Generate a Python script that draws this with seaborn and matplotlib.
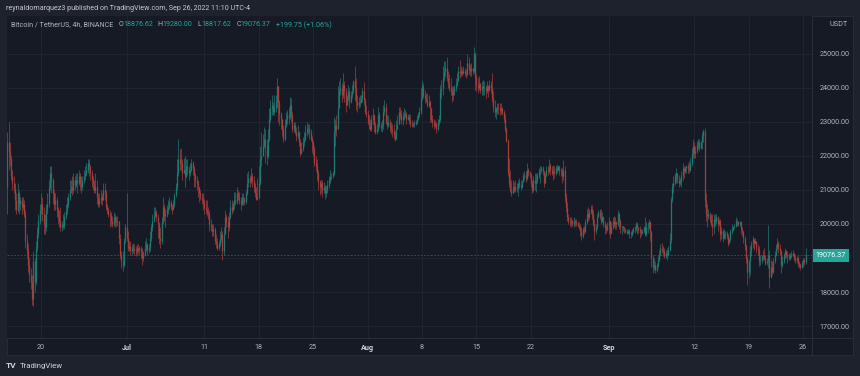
import numpy as np
import pandas as pd
import matplotlib
matplotlib.use("Agg")
import matplotlib.pyplot as plt
import matplotlib.dates as mdates
from matplotlib.patches import Rectangle
from matplotlib.lines import Line2D
import seaborn as sns

# ── Data: BTC/USDT 4h candles ────────────────────────────────────
first_bar = "2022-06-15 16:00"
first_open = 21100.0

close = [
    22400, 22150,
    21900, 21400, 21200, 21050, 20700, 20400,
    20900, 20600, 20700, 20500, 20600, 20300,
    19500, 19200, 18800, 18500, 18300, 17800,
    18900, 18300, 19300, 19700, 20100, 20400,
    20600, 20300, 20000, 19900, 20400, 20600,
    21100, 21500, 21300, 20900, 20600, 20700,
    20400, 20200, 20100, 19900, 20000, 19950,
    20200, 20400, 20600, 20800, 21000, 21100,
    21000, 21300, 21150, 21300, 21200, 21400,
    21200, 21100, 21300, 21400, 21500, 21600,
    21800, 21700, 21500, 21300, 21200, 21000,
    21100, 20800, 20600, 20700, 20800, 20700,
    21000, 20900, 20500, 20400, 20300, 20250,
    20100, 20000, 20200, 20100, 20050, 20100,
    19600, 19100, 18900, 18800, 19500, 19900,
    19600, 19300, 19350, 19200, 19300, 19300,
    19250, 19200, 19300, 19250, 19300, 19200,
    19000, 19100, 19300, 19400, 19250, 19300,
    19600, 19900, 20100, 20250, 20350, 20200,
    20000, 19600, 19500, 20100, 20500, 20250,
    20300, 20450, 20500, 20650, 20500, 20450,
    20600, 20850, 21100, 21500, 21900, 21800,
    21800, 21500, 21600, 21400, 21700, 21600,
    21500, 21600, 21800, 21650, 21450, 21300,
    21200, 21100, 20900, 20800, 20750, 20650,
    20500, 20400, 20350, 20300, 20000, 19900,
    19800, 19850, 19500, 19400, 19300, 19400,
    19550, 19700, 19200, 19700, 20200, 20050,
    19900, 20200, 20500, 20400, 20600, 20700,
    20650, 20900, 20800, 20700, 20600, 20800,
    20750, 20650, 20900, 21200, 21350, 21250,
    21400, 21300, 21100, 20900, 20750, 20800,
    21200, 21900, 22000, 22300, 22500, 22300,
    22000, 22500, 23100, 23400, 23500, 23300,
    23450, 23600, 24050, 23600, 23250, 23100,
    22800, 22500, 22900, 23100, 23200, 23150,
    23500, 23200, 22800, 22900, 22700, 22600,
    22700, 22400, 22100, 22200, 22400, 22500,
    22700, 22800, 22800, 22700, 22500, 22400,
    22200, 21800, 21700, 21500, 21250, 21100,
    21200, 21000, 21100, 20900, 21000, 21150,
    21300, 21400, 21400, 21500, 22700, 22900,
    22800, 23400, 23900, 24000, 23800, 24100,
    23900, 23500, 23700, 23900, 23600, 23800,
    23900, 24200, 24000, 23600, 23500, 23600,
    23600, 23700, 23900, 23650, 23300, 23250,
    23000, 22900, 22800, 23100, 23200, 22900,
    22700, 22800, 23200, 22900, 22850, 22900,
    23300, 23450, 23000, 22900, 23000, 22850,
    22800, 22750, 22600, 22500, 22800, 22950,
    23300, 23250, 23050, 23150, 23200, 23250,
    23100, 23150, 23050, 22950, 22900, 22950,
    22950, 23000, 23100, 23200, 23300, 23700,
    24050, 23800, 23700, 23650, 23500, 23600,
    23400, 23100, 23000, 22900, 22950, 22800,
    23000, 23100, 23900, 24000, 24300, 24500,
    24600, 24300, 24150, 24000, 23900, 23800,
    23900, 24000, 24100, 24200, 24500, 24450,
    24500, 24450, 24500, 24450, 24400, 24750,
    24550, 24500, 24600, 24500, 25000, 24350,
    24100, 24000, 24150, 23950, 24050, 24000,
    24000, 23900, 24050, 23950, 24100, 24000,
    23700, 23450, 23300, 23400, 23450, 23400,
    23350, 23400, 23300, 23100, 22800, 22450,
    21500, 21200, 21000, 20900, 21100, 21000,
    21100, 21050, 21200, 21150, 21100, 21250,
    21400, 21450, 21350, 21600, 21500, 21450,
    21200, 21000, 21300, 21200, 21300, 21450,
    21550, 21600, 21650, 21550, 21200, 21400,
    21600, 21550, 21750, 21600, 21500, 21550,
    21500, 21650, 21600, 21700, 21600, 21550,
    21400, 21600, 20800, 20500, 20200, 20100,
    20050, 20100, 20000, 20100, 20050, 20000,
    19950, 19900, 19800, 19650, 19850, 19800,
    20050, 20300, 20200, 20350, 20450, 20300,
    20000, 19800, 19900, 20200, 20350, 20250,
    20100, 20200, 20000, 19900, 19850, 19950,
    20100, 19750, 19900, 20100, 20000, 20050,
    20000, 20300, 20100, 19900, 19950, 19900,
    19850, 19800, 19750, 19800, 19750, 19700,
    19800, 19850, 19900, 20000, 19900, 19850,
    19800, 19750, 19800, 19900, 19700, 19900,
    19900, 20050, 19800, 19000, 18750, 18800,
    18650, 18800, 18950, 19100, 19300, 19250,
    19200, 19050, 19150, 19100, 19250, 19500,
    20700, 21100, 21200, 21450, 21500, 21300,
    21200, 21250, 21450, 21650, 21550, 21650,
    21700, 21650, 21600, 21800, 22050, 22300,
    22100, 22150, 22350, 22400, 22250, 22400,
    22600, 22750, 20700, 20300, 20250, 20300,
    20150, 20000, 19900, 20150, 20100, 20200,
    20000, 20100, 19700, 19800, 19600, 19700,
    19750, 19650, 19450, 19550, 19800, 19850,
    19900, 19950, 20100, 20050, 20000, 20050,
    19850, 19800, 19600, 19350, 19000, 18600,
    18900, 19200, 19400, 19550, 19450, 19500,
    19300, 19250, 18900, 18950, 19050, 19100,
    19000, 18850, 18900, 19100, 18450, 18750,
    18600, 18900, 19100, 19300, 19450, 19300,
    19200, 18800, 18900, 19100, 19200, 19100,
    19050, 19000, 19100, 19050, 19150, 19000,
    18950, 19000, 18850, 18800, 18750, 18850,
    18950, 18876.62, 19076.37,
]

high = [
    22700, 23000,
    22400, 22000, 21600, 21400, 21200, 20900,
    21200, 21000, 20800, 20800, 20800, 20700,
    20400, 19700, 19400, 19000, 18700, 18500,
    19200, 19000, 19500, 19900, 20300, 20600,
    20900, 20800, 20500, 20300, 20600, 20900,
    21300, 21700, 21700, 21350, 21000, 20900,
    20800, 20500, 20400, 20500, 20100, 20300,
    20350, 20600, 20800, 20900, 21300, 21300,
    21400, 21500, 21400, 21500, 21500, 21600,
    21500, 21400, 21400, 21600, 21700, 21800,
    21900, 21900, 21750, 21600, 21400, 21300,
    21500, 21300, 20900, 20900, 21000, 20900,
    21200, 21200, 21000, 20600, 20500, 20400,
    20350, 20250, 20350, 20300, 20250, 20250,
    20100, 19700, 19200, 19200, 19600, 20000,
    20900, 19800, 19500, 19500, 19400, 19450,
    19400, 19350, 19400, 19400, 19350, 19350,
    19300, 19200, 19500, 19600, 19450, 19400,
    19800, 20000, 20300, 20500, 20500, 20400,
    20300, 20050, 19900, 20200, 20800, 20600,
    20450, 20550, 20700, 20800, 20700, 20600,
    20700, 20900, 21200, 21900, 22500, 22200,
    22250, 21900, 21950, 22000, 21900, 21900,
    21700, 21800, 21900, 21850, 21700, 21500,
    21400, 21300, 21100, 21000, 20900, 20900,
    20750, 20700, 20700, 20500, 20400, 20150,
    20000, 20000, 19900, 19700, 19600, 19500,
    19800, 19900, 19800, 19900, 20400, 20300,
    20250, 20350, 20700, 20700, 20650, 20950,
    20950, 21100, 21000, 20950, 20800, 20900,
    20900, 20800, 21000, 21500, 21550, 21450,
    21650, 21500, 21400, 21200, 21100, 21350,
    21700, 22300, 22700, 22650, 22850, 22800,
    22500, 22800, 23400, 23650, 23800, 23600,
    23800, 23800, 24280, 24050, 23650, 23300,
    23100, 22900, 23100, 23300, 23350, 23450,
    23750, 23700, 23300, 23000, 23000, 22850,
    22900, 22750, 22500, 22400, 22550, 22700,
    22900, 23000, 22950, 22950, 22800, 22600,
    22450, 22300, 22000, 21900, 21600, 21300,
    21300, 21300, 21250, 21150, 21150, 21300,
    21400, 21600, 21500, 21550, 23150, 23100,
    23200, 24050, 24200, 24300, 24150, 24450,
    24200, 24000, 23800, 24100, 24000, 23900,
    24100, 24250, 24650, 24300, 23800, 23750,
    23800, 23800, 24000, 24170, 23700, 23500,
    23350, 23200, 23100, 23200, 23400, 23250,
    23000, 22950, 23450, 23300, 23000, 23050,
    23500, 23650, 23550, 23200, 23200, 23100,
    23000, 22950, 22950, 22750, 23050, 23200,
    23450, 23450, 23350, 23300, 23400, 23350,
    23300, 23250, 23250, 23250, 23050, 23000,
    23050, 23050, 23200, 23300, 23450, 24000,
    24250, 24150, 23950, 23850, 23850, 23800,
    23650, 23400, 23200, 23100, 23050, 23000,
    23100, 23200, 24100, 24250, 24650, 24800,
    24800, 24900, 24500, 24400, 24300, 24050,
    24050, 24100, 24300, 24450, 24650, 24830,
    24650, 24600, 24650, 24600, 24550, 25000,
    24900, 24700, 24750, 24600, 25200, 25050,
    24400, 24300, 24350, 24150, 24200, 24250,
    24200, 24100, 24200, 24100, 24250, 24200,
    24440, 23900, 23650, 23450, 23550, 23550,
    23550, 23550, 23450, 23350, 23250, 22850,
    22500, 21950, 21600, 21300, 21300, 21250,
    21300, 21200, 21300, 21350, 21300, 21300,
    21500, 21550, 21550, 21800, 21650, 21550,
    21500, 21300, 21400, 21500, 21500, 21500,
    21650, 21700, 21700, 21700, 21550, 21500,
    21700, 21700, 21900, 21800, 21700, 21750,
    21700, 21750, 21750, 21750, 21700, 21650,
    21650, 21890, 21700, 20900, 20650, 20300,
    20200, 20200, 20150, 20200, 20150, 20150,
    20100, 20050, 20000, 19900, 19900, 19950,
    20150, 20450, 20500, 20450, 20570, 20550,
    20400, 20150, 20000, 20300, 20400, 20450,
    20450, 20350, 20250, 20100, 20000, 20050,
    20200, 20100, 20050, 20200, 20250, 20200,
    20100, 20400, 20350, 20150, 19950, 19950,
    19900, 19850, 19850, 19850, 19850, 19800,
    19850, 19900, 19950, 20050, 20050, 19900,
    19950, 19850, 19850, 19950, 20200, 20050,
    20050, 20150, 20100, 19800, 19100, 19000,
    18900, 18850, 19050, 19250, 19400, 19450,
    19350, 19300, 19250, 19300, 19350, 19750,
    20800, 21200, 21400, 21500, 21650, 21500,
    21450, 21350, 21550, 21800, 21700, 21700,
    21750, 21800, 21850, 21950, 22250, 22500,
    22400, 22300, 22450, 22500, 22500, 22450,
    22700, 22800, 22830, 20900, 20600, 20450,
    20350, 20300, 20300, 20300, 20300, 20300,
    20250, 20150, 20150, 19900, 19850, 19850,
    19800, 19800, 19700, 19600, 19850, 20000,
    19950, 20000, 20200, 20150, 20100, 20100,
    20100, 19900, 19800, 19650, 19400, 19050,
    18950, 19350, 19500, 19650, 19600, 19600,
    19500, 19400, 19350, 19100, 19100, 19250,
    19300, 19100, 19000, 19980, 19250, 18950,
    18900, 19000, 19200, 19400, 19580, 19500,
    19400, 19250, 19050, 19150, 19300, 19250,
    19200, 19150, 19150, 19200, 19250, 19150,
    19100, 19050, 19050, 18900, 18850, 18950,
    19000, 19000, 19280,
]

low = [
    20300, 21600,
    21700, 21300, 21000, 20900, 20400, 20300,
    20350, 20300, 20400, 20300, 20400, 20200,
    19300, 19000, 18600, 18300, 18100, 17620,
    17600, 18000, 18200, 19200, 19600, 20000,
    20300, 20100, 19700, 19700, 19800, 20300,
    20500, 21000, 20900, 20600, 20400, 20400,
    20200, 20000, 19900, 19800, 19800, 19850,
    19850, 20150, 20300, 20500, 20700, 20900,
    20850, 20900, 21000, 21100, 20900, 21150,
    21000, 20900, 21000, 21200, 21300, 21400,
    21500, 21400, 21300, 21100, 21000, 20900,
    20900, 20600, 20500, 20500, 20600, 20550,
    20700, 20700, 20400, 20300, 20200, 19900,
    19950, 19900, 19950, 19900, 19950, 19950,
    19400, 19000, 18700, 18630, 18750, 19450,
    19500, 19200, 19200, 19100, 19100, 19150,
    19100, 19050, 19100, 19150, 19100, 19000,
    18800, 18900, 19050, 19200, 19100, 19150,
    19200, 19500, 19800, 20050, 20200, 20100,
    19600, 19400, 19300, 19400, 20000, 20100,
    19900, 20200, 20300, 20400, 20400, 20300,
    20400, 20500, 20800, 21000, 21400, 21600,
    21600, 21300, 21500, 21100, 21350, 21450,
    21300, 21400, 21550, 21450, 21100, 21100,
    21000, 20800, 20650, 20700, 20600, 20400,
    20300, 20300, 20250, 20150, 19800, 19800,
    19650, 19650, 19400, 19300, 19250, 19250,
    19350, 19500, 18950, 19100, 19700, 19900,
    19600, 19800, 20150, 20300, 20350, 20450,
    20550, 20600, 20700, 20600, 20400, 20550,
    20550, 20550, 20600, 20850, 21100, 21100,
    21200, 21100, 20950, 20800, 20700, 20700,
    20750, 21150, 21700, 22000, 22250, 21800,
    21750, 21950, 22450, 23000, 23200, 23200,
    23200, 23300, 23400, 23000, 22900, 22800,
    22600, 22400, 22450, 22850, 22950, 22950,
    23100, 23000, 22700, 22700, 22650, 22450,
    22500, 22300, 22000, 22050, 22150, 22300,
    22450, 22600, 22650, 22500, 22450, 22100,
    22000, 21700, 21550, 21300, 21000, 20850,
    20900, 20800, 20900, 20750, 20800, 20900,
    21050, 21200, 21300, 21350, 21450, 22300,
    22600, 22800, 23500, 23800, 23600, 23700,
    23600, 23300, 23500, 23650, 23400, 23550,
    23700, 23850, 23650, 23350, 23300, 23400,
    23450, 23550, 23600, 23500, 23250, 23150,
    22950, 22800, 22750, 22750, 22950, 22700,
    22650, 22650, 22750, 22850, 22750, 22700,
    22800, 23200, 22950, 22800, 22850, 22700,
    22650, 22550, 22500, 22430, 22500, 22800,
    22950, 23100, 22950, 22900, 23050, 23150,
    22950, 23050, 22950, 22850, 22850, 22850,
    22850, 22900, 22950, 23050, 23150, 23250,
    23650, 23700, 23550, 23600, 23450, 23450,
    23000, 23000, 22850, 22800, 22850, 22680,
    22750, 22900, 23000, 23700, 23800, 24200,
    24350, 24200, 24000, 23900, 23800, 23600,
    23650, 23800, 23900, 24050, 24200, 24300,
    24350, 24350, 24400, 24350, 24300, 24350,
    24400, 24350, 24350, 24400, 24450, 23950,
    23900, 23850, 23950, 23850, 23800, 23800,
    23800, 23700, 23850, 23750, 23900, 23850,
    23600, 23300, 23150, 23100, 23250, 23250,
    23200, 23250, 23200, 23000, 22700, 22400,
    21400, 21100, 20950, 20810, 20900, 20950,
    20950, 20950, 20810, 21050, 21000, 21050,
    21250, 21300, 21250, 21300, 21400, 21350,
    21100, 20900, 20950, 21000, 20950, 21200,
    21350, 21200, 21500, 21450, 21100, 21200,
    21400, 21450, 21500, 21450, 21450, 21300,
    21350, 21450, 21500, 21550, 21450, 21400,
    21200, 21300, 20650, 20350, 20100, 20000,
    19950, 19900, 19950, 19900, 19950, 19950,
    19900, 19850, 19650, 19540, 19600, 19700,
    19750, 20000, 20100, 20150, 20300, 20150,
    19950, 19540, 19700, 19850, 20200, 20150,
    20000, 20050, 19900, 19700, 19750, 19800,
    19700, 19590, 19700, 19850, 19900, 19850,
    19850, 19950, 19850, 19750, 19700, 19800,
    19750, 19750, 19700, 19700, 19600, 19600,
    19650, 19750, 19750, 19800, 19700, 19750,
    19600, 19650, 19700, 19750, 19650, 19650,
    19750, 19850, 19500, 18750, 18560, 18650,
    18560, 18600, 18750, 18900, 19050, 19150,
    19050, 19000, 19000, 18950, 19050, 19200,
    19450, 20650, 20900, 21150, 21200, 21200,
    21100, 21150, 21100, 21300, 21350, 21500,
    21500, 21500, 21500, 21550, 21700, 21950,
    21950, 21950, 22100, 22200, 22150, 22200,
    22200, 22400, 20500, 20100, 19900, 20150,
    20050, 19950, 19640, 19700, 19950, 20000,
    19800, 19950, 19500, 19550, 19480, 19550,
    19550, 19550, 19350, 19400, 19500, 19700,
    19800, 19850, 19900, 19950, 19950, 19950,
    19700, 19650, 19450, 19250, 18850, 18220,
    18400, 18500, 19050, 19300, 19250, 19400,
    19150, 19100, 18770, 18800, 18850, 18950,
    18950, 18800, 18800, 18700, 18120, 18400,
    18500, 18550, 18850, 19050, 19250, 19150,
    19100, 18560, 18750, 18850, 19000, 19000,
    18850, 18950, 18950, 19000, 19050, 18900,
    18850, 18850, 18750, 18700, 18660, 18700,
    18750, 18800, 18817.62,
]

tick_dates = ["2022-06-20", "2022-07-01", "2022-07-11", "2022-07-18", "2022-07-25",
              "2022-08-01", "2022-08-08", "2022-08-15", "2022-08-22", "2022-09-01",
              "2022-09-12", "2022-09-19", "2022-09-26"]
tick_labels = ["20", "Jul", "11", "18", "25", "Aug", "8", "15", "22", "Sep", "12", "19", "26"]
month_labels = ["Jul", "Aug", "Sep"]
price_ticks = [17000, 18000, 19000, 20000, 21000, 22000, 23000, 24000, 25000]
last_price = 19076.37

header = "reynaldomarquez3 published on TradingView.com, Sep 26, 2022 11:10 UTC-4"
legend_parts = [("Bitcoin / TetherUS, 4h, BINANCE", "gray"), ("O", "gray"), ("18876.62", "up"),
                ("H", "gray"), ("19280.00", "up"), ("L", "gray"), ("18817.62", "up"),
                ("C", "gray"), ("19076.37", "up"), ("+199.75 (+1.06%)", "up")]
legend_gaps = [0, 5, 0, 5, 0, 5, 0, 5, 0, 5]

# ── Style ────────────────────────────────────────────────────────
BG_OUTER = "#1e222d"
BG_PANEL = "#161a25"
GRID     = "#222632"
SEP      = "#2a2e39"
UP       = "#1f7a72"
DOWN     = "#a53f3c"
TEXT     = "#b2b5be"
TAG      = "#26a69a"

sns.set_theme(style="dark", rc={"figure.facecolor": BG_OUTER, "axes.facecolor": BG_PANEL})
plt.rcParams["font.family"] = ["Roboto", "DejaVu Sans"]

W, H = 860, 376
fig = plt.figure(figsize=(W / 100, H / 100), dpi=100)


def fx(x):
    return x / W


def fy(y):
    return 1 - y / H


# panel background + separators
fig.patches.append(Rectangle((fx(7), fy(355)), fx(846), 339 / H, transform=fig.transFigure,
                             facecolor=BG_PANEL, edgecolor=SEP, linewidth=0.6, zorder=-10))
fig.lines.append(Line2D([fx(812), fx(812)], [fy(16), fy(355)], transform=fig.transFigure,
                        color=SEP, linewidth=0.7, zorder=5))
fig.lines.append(Line2D([fx(7), fx(853)], [fy(338), fy(338)], transform=fig.transFigure,
                        color=SEP, linewidth=0.7, zorder=5))

ax = fig.add_axes([fx(7), fy(338), fx(805), 322 / H])
ax.set_facecolor(BG_PANEL)

# candles
times = pd.date_range(first_bar, periods=len(close), freq="4h")
c = np.array(close, dtype=float)
o = np.concatenate([[first_open], c[:-1]])
hi = np.maximum(np.array(high, dtype=float), np.maximum(o, c))
lo = np.minimum(np.array(low, dtype=float), np.minimum(o, c))
colors = np.where(c >= o, UP, DOWN)
xd = mdates.date2num(times)

ax.vlines(xd, lo, hi, colors=colors, linewidth=0.5, zorder=3)
body_lo = np.minimum(o, c)
body_hi = np.maximum(np.maximum(o, c), body_lo + 25)
ax.vlines(xd, body_lo, body_hi, colors=colors, linewidth=0.9, zorder=3)

# current price line
ax.axhline(last_price, color="#2b5f5b", linewidth=0.6, linestyle=(0, (2, 2)), zorder=2)

# limits mapped to the screenshot pixels
x0 = mdates.date2num(pd.Timestamp("2022-06-20")) - 34 / 7.776
x1 = mdates.date2num(pd.Timestamp("2022-06-20")) + 771 / 7.776
ax.set_xlim(x0, x1)
ax.set_ylim(25000 - 284 / 34 * 1000, 25000 + 38 / 34 * 1000)

ax.set_xticks(mdates.date2num(pd.to_datetime(tick_dates)))
ax.set_xticklabels(tick_labels)
for lab in ax.get_xticklabels():
    lab.set_color("#d1d4dc" if lab.get_text() in month_labels else TEXT)
    lab.set_fontweight("bold" if lab.get_text() in month_labels else "normal")
ax.tick_params(axis="x", length=0, pad=4.5, labelsize=5.2)

ax.set_yticks(price_ticks)
ax.set_yticklabels([f"{p:.2f}" if p != 19000 else "" for p in price_ticks])
ax.yaxis.tick_right()
ax.tick_params(axis="y", length=0, pad=5.3, labelsize=5.2, labelcolor=TEXT)

ax.grid(True, color=GRID, linewidth=0.6)
ax.set_axisbelow(True)
sns.despine(ax=ax, left=True, bottom=True, right=True, top=True)

# last price tag
ax.annotate(f"{last_price:.2f}", xy=(1.0, last_price), xycoords=("axes fraction", "data"),
            xytext=(2.6, 0), textcoords="offset points", ha="left", va="center",
            fontsize=5.2, color="white", annotation_clip=False,
            bbox=dict(boxstyle="square,pad=0.45", facecolor=TAG, edgecolor="none"))

# header / legend text
fig.text(fx(6), fy(8), header, fontsize=5.1, color="#c8cad0", va="center", ha="left")
fig.text(fx(830), fy(24), "USDT", fontsize=5.2, color=TEXT, va="center", ha="left")

fig.canvas.draw()
renderer = fig.canvas.get_renderer()
xpos = 11
for (txt, kind), gap in zip(legend_parts, legend_gaps):
    xpos += gap
    t = fig.text(fx(xpos), fy(25), txt, fontsize=5.1, va="center", ha="left",
                 color=TAG if kind == "up" else TEXT)
    xpos += t.get_window_extent(renderer).width

fig.text(fx(6), fy(366), "TV", fontsize=6, fontweight="bold", color="#d1d4dc", va="center")
fig.text(fx(20), fy(366), "TradingView", fontsize=5.6, color="#d1d4dc", va="center")

fig.savefig("out.png", dpi=100, facecolor=BG_OUTER)
